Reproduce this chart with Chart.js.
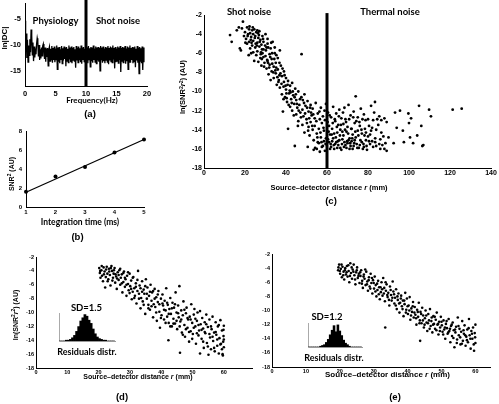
<!DOCTYPE html>
<html><head><meta charset="utf-8">
<script src="https://cdn.jsdelivr.net/npm/chart.js@4.4.1/dist/chart.umd.min.js"></script>
<style>
body{margin:0;width:499px;height:404px;position:relative;background:#fff;overflow:hidden;font-family:"Liberation Sans",Arial,sans-serif}
canvas{position:absolute;left:0;top:0}
.t{position:absolute;white-space:nowrap;font-weight:bold;color:#000;line-height:1;transform:translate(-50%,-50%)}
.r{transform:translate(-50%,-50%) rotate(-90deg)}
.cal{font-family:Lato,"Open Sans",sans-serif}
sup{font-size:70%;vertical-align:0.45em;line-height:0}
</style></head><body>
<script>
// ---------- DATA ----------
// (a) spectrum ln|DC| sampled every 0.1 Hz from 0 Hz
const freqStep = 0.1;
const lnDC = [
-5.4,-9.8,-7.9,-12.6,-9.1,-13.4,-10.2,-12.1,-9.0,-11.5,
-7.1,-8.3,-12.0,-9.6,-13.2,-10.4,-12.5,-10.8,-11.9,-9.9,
-8.8,-9.5,-12.3,-10.1,-13.0,-10.9,-12.7,-10.6,-12.2,-10.3,
-9.9,-11.2,-12.8,-10.6,-13.3,-10.8,-12.4,-10.7,-14.1,-11.0,
-10.5,-13.2,-10.8,-12.9,-10.3,-13.5,-10.7,-13.0,-10.4,-13.4,
-10.8,-12.9,-10.2,-14.8,-10.6,-13.3,-10.5,-13.6,-10.9,-13.0,
-10.3,-13.7,-10.7,-13.1,-10.4,-12.8,-10.6,-14.2,-10.5,-13.2,
-10.8,-13.5,-10.2,-12.9,-10.6,-13.4,-10.4,-13.6,-10.7,-13.0,
-10.5,-13.3,-10.9,-14.5,-10.3,-13.1,-10.6,-13.5,-10.4,-12.9,
-10.7,-13.4,-10.2,-13.7,-10.6,-13.0,-10.5,-13.3,-10.8,-13.5,
-10.4,-13.1,-10.6,-13.6,-10.3,-12.9,-10.7,-14.3,-10.5,-13.2,
-10.6,-13.5,-10.2,-13.0,-10.8,-13.4,-10.4,-13.7,-10.6,-13.1,
-10.5,-13.3,-10.7,-15.1,-10.3,-12.9,-10.6,-13.5,-10.4,-13.2,
-10.8,-13.6,-10.5,-13.0,-10.6,-13.4,-10.3,-13.8,-10.7,-13.1,
-10.4,-13.3,-10.6,-13.5,-10.2,-12.9,-10.7,-14.6,-10.5,-13.4,
-10.8,-13.2,-10.4,-13.6,-10.6,-13.0,-10.3,-15.3,-10.7,-13.3,
-10.5,-13.5,-10.6,-13.1,-10.3,-13.7,-10.8,-13.2,-10.4,-14.8,
-10.6,-13.4,-10.2,-13.5,-10.7,-13.0,-10.5,-13.6,-10.6,-13.3,
-10.4,-14.4,-10.8,-13.1,-10.3,-13.5,-10.6,-15.6,-10.5,-13.2,
-10.7,-13.6,-10.4,-14.9,-10.6,-13.4
];
const cutoffFreq = 10;
const aXTicks = [0,5,10,15,20];
const aYTicks = [-15,-10,-5];

// (b) SNR^2 vs integration time
const intTime = [1,2,3,4,5];
const snr2 = [1.6,3.2,4.2,5.75,7.1];
const snr2Fit = [1.55,7.1];
const bXTicks = [1,2,3,4,5];
const bYTicks = [0,2,4,6,8];

// (c) ln(SNR^2 r^2) vs source-detector distance, all channels
const cPoints = [
[12.7,-4.1],[13.5,-4.8],[16,-3.6],[17,-3.3],[18.5,-3.4],[19,-2.7],[17.5,-5.5],[18,-5.7],[19.5,-4.2],[20,-3.8],
[20.5,-4.5],[21,-3.3],[21,-5.0],[21.5,-4.0],[22,-3.5],[22,-4.8],[22.5,-5.5],[22.5,-3.9],[23,-4.3],[23,-6.0],
[23.5,-3.6],[23.5,-5.2],[24,-4.0],[24,-4.7],[24.5,-6.8],[24.5,-3.5],[25,-5.4],[25,-4.2],[25.5,-6.2],[25.5,-3.8],
[26,-4.9],[26,-5.8],[26.5,-4.4],[26.5,-6.9],[27,-3.7],[27,-5.3],[27.5,-4.6],[27.5,-6.5],[28,-5.1],[28,-7.3],
[28.5,-4.2],[28.5,-6.0],[29,-5.6],[29,-4.8],[29.5,-7.0],[30,-6.3],[30,-4.0],[30.5,-5.4],[30.5,-7.6],[31,-6.8],
[31,-5.0],[31.5,-8.2],[32,-6.1],[32,-7.2],[32.5,-5.5],[33,-7.9],[33,-6.6],[33.5,-4.8],[34,-7.4],[34,-8.6],
[34.5,-6.0],[35,-7.0],[35,-8.1],[35.5,-9.3],[36,-6.5],[36,-7.7],[36.5,-8.8],[37,-5.7],[37,-9.6],[37.5,-7.3],
[38,-8.4],[38,-10.3],[38.5,-12.1],[39,-7.9],[39,-9.0],[39.5,-10.6],[40,-8.6],[40,-9.8],[40.5,-11.1],[41,-8.9],
[41,-13.9],[41.5,-10.2],[42,-9.4],[42,-11.6],[42.5,-10.8],[43,-9.1],[43,-12.0],[43.5,-10.4],[44,-11.3],[44.3,-15.7],
[44.5,-9.7],[45,-10.9],[45,-12.4],[45.5,-11.7],[46,-10.0],[46,-13.1],[46.5,-11.4],[47,-12.2],[47.6,-6.1],[47.5,-10.6],
[48,-11.9],[48,-13.5],[48.5,-12.6],[49,-10.3],[49,-14.3],[49.5,-11.5],[50,-12.9],[50.6,-15.8],[50.5,-11.0],[51,-13.7],
[51,-12.1],[51.5,-14.6],[52,-11.4],[52,-13.2],[52.5,-12.5],[53,-14.0],[53,-11.8],[53.5,-15.1],[54,-12.8],[54,-13.6],
[54.5,-11.2],[55,-14.4],[55,-16.0],[55.5,-12.3],[56,-13.9],[56,-15.4],[56.5,-12.9],[57,-14.8],[57,-11.7],[57.5,-13.3],
[58,-15.7],[58,-12.6],[58.5,-14.1],[59,-13.0],[59,-16.2],[59.5,-11.3],[59.5,-14.9],
[29,-6.4],[31,-4.5],[26,-3.6],[24,-5.9],[22.8,-4.6],[27.8,-5.9],[32.5,-8.8],[34.5,-5.4],[20.2,-4.9],[21.8,-6.2],
[25.2,-5.0],[26.8,-4.1],[28.2,-6.6],[29.8,-5.2],[31.2,-7.0],[33.2,-6.0],[35.2,-7.5],[36.8,-8.3],[38.8,-9.5],[40.2,-10.2],
[42.2,-10.1],[44.2,-10.6],[46.2,-12.0],[48.2,-10.9],[50.2,-13.3],[52.2,-12.2],[54.2,-15.9],[56.5,-16.3],[57.5,-15.8],[58.5,-15.2],
[55.5,-15.3],[53.5,-16.1],
[21.3,-4.2],[22.2,-3.2],[23.2,-4.9],[23.8,-3.3],[24.8,-4.4],[25.8,-5.2],[26.3,-3.9],[27.2,-4.8],[27.7,-6.1],[28.3,-5.6],
[28.8,-4.5],[29.3,-7.4],[30.2,-5.7],[30.8,-6.7],[31.3,-5.4],[31.8,-7.5],[32.3,-6.4],[32.8,-4.9],[33.3,-7.1],[33.8,-8.0],
[34.3,-6.6],[34.8,-7.8],[35.3,-6.2],[35.8,-8.5],[36.3,-9.0],[36.8,-7.0],[37.3,-8.1],[37.8,-9.2],[38.3,-7.6],[38.8,-10.8],
[39.3,-8.3],[39.8,-9.4],[40.3,-10.7],[40.8,-9.3],[41.3,-11.4],[41.8,-9.9],[42.8,-11.2],[43.3,-10.0],[43.8,-12.5],[44.8,-10.3],
[45.3,-11.3],[45.8,-13.6],[46.8,-10.8],[47.3,-12.7],[48.8,-11.2],[49.3,-12.3],[50.3,-11.7],[50.8,-14.1],[51.3,-12.8],[51.8,-11.7],
[52.8,-13.6],[53.3,-12.4],[54.8,-13.1],[55.3,-14.8],[56.3,-12.1],[56.8,-14.3],[57.3,-15.3],[58.3,-13.8],[58.8,-12.0],[59.3,-15.5],
[60.5,-12.2],[61,-13.6],[61,-15.3],[61.5,-14.5],[62,-12.7],[62,-15.8],[62.5,-13.9],[63,-11.6],[63,-14.9],[63.5,-16.0],
[64,-13.1],[64,-15.5],[64.5,-12.3],[65,-14.3],[65,-15.9],[65.5,-13.5],[66,-11.9],[66,-15.1],[66.5,-14.0],[67,-12.8],
[67,-16.1],[67.5,-15.0],[68,-13.4],[68,-14.6],[68.5,-11.7],[69,-15.6],[69,-12.9],[69.5,-14.2],[70,-15.4],[70,-13.7],
[70.5,-11.4],[71,-14.9],[71,-16.0],[71.5,-12.5],[72,-15.2],[72,-13.9],[72.5,-14.5],[73,-12.1],[73,-15.7],[73.5,-13.3],
[74,-10.5],[74,-14.8],[74.5,-15.5],[75,-12.7],[75,-14.1],[75.5,-15.9],[76,-13.6],[76.5,-11.8],[77,-15.3],[77,-14.4],
[78,-12.4],[78,-15.8],[78.5,-13.9],[79,-15.1],[79.5,-16.1],[80,-12.9],[80,-14.7],[81,-15.5],[81.5,-11.5],[82,-13.8],
[82,-15.2],[83,-12.2],[83.4,-11.1],[83.5,-14.9],[84,-15.7],[85,-13.5],[85.5,-12.6],[86,-15.0],[86.5,-14.3],[87,-15.6],
[88,-12.8],[88.5,-15.4],[89.1,-13.2],[89.1,-16.2],[90,-14.8],[92.5,-15.4],[93.2,-12.2],[94,-13.8],[95.6,-12.0],[97,-14.1],
[97.5,-15.3],[99.7,-12.3],[100,-13.3],[100.5,-14.8],[101,-12.8],[102,-15.4],[104,-14.6],[104.9,-11.5],[106,-13.6],[106.5,-15.7],
[107,-15.6],[109.8,-11.9],[110.7,-12.6],[121.3,-11.9],[125.7,-11.8],
[60.5,-15.0],[61.5,-16.0],[62.5,-15.2],[63.5,-14.4],[64.5,-15.3],[65.5,-15.6],[66.5,-15.9],[67.5,-14.2],[68.5,-15.3],[69.5,-15.9],
[70.5,-15.1],[71.5,-15.7],[72.5,-16.0],[73.5,-15.1],[76,-15.6],[77.5,-16.0],[79,-14.3],[81,-14.5],[84,-14.0],[86,-16.0],
[60.3,-13.2],[60.8,-14.2],[61.3,-12.5],[61.8,-15.5],[62.3,-14.5],[62.8,-13.3],[63.3,-15.6],[63.8,-12.9],[64.3,-14.8],[64.8,-13.7],
[65.3,-15.2],[65.8,-12.6],[66.3,-14.6],[66.8,-13.5],[67.3,-15.5],[67.8,-12.2],[68.3,-15.8],[68.8,-14.0],[69.3,-13.2],[69.8,-15.2],
[70.3,-14.4],[70.8,-12.9],[71.3,-15.4],[71.8,-13.9],[72.3,-14.9],[72.8,-12.7],[73.3,-15.4],[73.8,-14.2],[74.3,-13.1],[74.8,-15.9],
[75.3,-14.6],[75.8,-13.2],[76.3,-15.1],[76.8,-14.0],[77.3,-12.9],[77.8,-15.5],[78.3,-14.6],[78.8,-13.0],[79.3,-15.7],[80.5,-15.2],
[80.5,-13.6],[81.5,-14.1],[82.5,-15.8],[82.5,-13.0],[83.5,-15.3],[84.5,-12.9],[85.5,-15.5],[86.5,-13.0],[87.5,-14.7],[88,-16.0]
];
const cutoffDist = 60;
const cXTicks = [0,20,40,60,80,100,120,140];
const rTicksY = [-18,-16,-14,-12,-10,-8,-6,-4,-2];

// (d) short-separation channels, SD = 1.5
const dPoints = [
[20.2,-3.6],[20.4,-4.3],[20.6,-5.0],[20.9,-3.9],[21.1,-4.7],[21.4,-5.5],[21.6,-3.5],[21.9,-4.1],[22.1,-6.4],[22.3,-4.9],
[22.6,-3.4],[22.8,-4.4],[23.1,-5.2],[23.3,-3.7],[23.6,-4.6],[23.8,-6.1],[24.1,-3.3],[24.3,-4.0],[24.6,-5.0],[24.8,-4.4],
[25.1,-3.6],[25.3,-5.7],[25.6,-4.8],[25.8,-6.6],[26.1,-4.2],[26.4,-5.3],[26.6,-3.9],[26.9,-6.0],[27.1,-5.0],[27.4,-4.5],
[27.6,-7.1],[27.9,-5.6],[28.1,-4.1],[28.4,-6.3],[28.6,-5.2],[28.9,-7.6],[29.1,-4.7],[29.4,-5.9],[29.6,-6.8],[29.9,-4.4],
[30.1,-6.2],[30.4,-5.4],[30.6,-8.1],[30.9,-7.0],[31.1,-4.9],[31.4,-6.5],[31.6,-7.6],[31.9,-5.8],[32.1,-8.7],[32.4,-6.9],
[32.6,-4.0],[32.9,-7.3],[33.1,-6.1],[33.4,-9.4],[33.6,-7.9],[33.9,-5.5],[34.1,-8.4],[34.4,-6.7],[34.6,-7.3],[34.9,-10.2],
[35.1,-5.2],[35.4,-8.0],[35.6,-6.4],[35.9,-8.9],[36.1,-7.6],[36.4,-9.6],[36.6,-6.0],[36.9,-8.3],[37.1,-7.1],[37.4,-10.7],
[37.6,-8.8],[37.9,-6.6],[38.1,-9.2],[38.4,-7.8],[38.6,-11.2],[38.9,-8.5],[39.1,-6.9],[39.6,-12.2],[39.4,-9.9],[39.9,-8.0],
[40.1,-10.4],[40.4,-7.4],[40.6,-9.0],[40.9,-11.0],[41.1,-8.3],[41.4,-9.7],[41.6,-6.5],[41.9,-10.6],[42.3,-14.0],[42.1,-8.9],
[42.4,-11.5],[42.6,-9.5],[42.9,-7.9],[43.1,-10.2],[43.4,-12.0],[43.6,-8.6],[43.9,-10.9],[44.1,-9.3],[44.4,-11.6],[44.6,-7.1],
[44.9,-10.0],[45.1,-12.4],[45.4,-9.0],[45.8,-6.2],[45.6,-10.7],[46,-15.8],[46.1,-11.3],[46.4,-9.7],[46.6,-12.9],[46.9,-10.4],
[47.1,-8.4],[47.4,-11.8],[47.6,-13.5],[47.9,-10.1],[48.1,-9.3],[48.4,-12.2],[48.6,-11.0],[48.9,-14.2],[49.1,-10.6],[49.4,-12.7],
[49.6,-8.8],[49.9,-11.5],[50.1,-13.1],[50.4,-10.3],[50.6,-9.5],[50.9,-12.0],[51.1,-14.5],[51.4,-11.2],[51.6,-10.0],[51.9,-13.3],
[52.4,-15.9],[52.1,-12.6],[52.4,-9.8],[52.6,-11.7],[52.9,-13.8],[53.1,-10.8],[53.4,-12.3],[53.6,-15.1],[53.9,-11.4],[54.1,-13.0],
[54.4,-10.3],[54.6,-14.4],[54.9,-12.1],[55.1,-16.1],[55.4,-11.0],[55.6,-13.6],[55.9,-15.3],[56.1,-12.4],[56.4,-10.6],[56.6,-14.1],
[56.9,-12.9],[57.1,-15.6],[57.4,-11.4],[57.6,-13.2],[57.9,-14.8],[58.1,-12.0],[58.4,-15.9],[58.6,-13.7],[58.9,-11.1],[59.1,-14.5],
[59.4,-12.6],[59.6,-16.0],[59.9,-13.4],[60,-15.0],[60,-11.9],[59.8,-14.2],
[20.5,-4.0],[21,-3.3],[21.7,-4.5],[22.4,-3.8],[22.9,-5.5],[23.4,-4.1],[23.9,-3.6],[24.4,-5.4],[24.9,-3.9],[25.4,-4.5],
[25.9,-5.1],[26.4,-4.6],[26.9,-3.7],[27.4,-5.8],[27.9,-4.3],[28.4,-5.0],[28.9,-6.0],[29.4,-4.2],[29.9,-7.2],[30.4,-6.6],
[30.9,-5.0],[31.4,-7.9],[31.9,-6.3],[32.4,-5.3],[32.9,-8.0],[33.4,-6.5],[33.9,-7.0],[34.4,-8.9],[34.9,-6.2],[35.4,-7.3],
[35.9,-9.4],[36.4,-7.0],[36.9,-9.1],[37.4,-6.9],[37.9,-8.0],[38.4,-10.0],[38.9,-7.4],[39.4,-8.8],[39.9,-10.8],[40.4,-8.7],
[40.9,-9.6],[41.4,-11.5],[41.9,-8.6],[42.4,-10.2],[42.9,-12.0],[43.4,-9.4],[43.9,-11.6],[44.4,-8.8],[44.9,-11.2],[45.4,-10.1],
[45.9,-12.0],[46.4,-11.0],[46.9,-13.2],[47.4,-9.6],[47.9,-12.4],[48.4,-10.8],[48.9,-12.8],[49.4,-11.0],[49.9,-13.8],[50.4,-12.2],
[50.9,-10.9],[51.4,-13.0],[51.9,-11.8],[52.9,-12.5],[53.4,-14.2],[53.9,-12.8],[54.4,-11.7],[54.9,-14.9],[55.4,-13.1],[55.9,-12.0],
[56.4,-13.5],[56.9,-15.1],[57.4,-12.8],[57.9,-13.9],[58.4,-11.8],[58.9,-14.6],[59.4,-15.3],[59.9,-12.5],[60,-13.9],[59.7,-16.2]
];
const dResidHist = [0,0,0,1,1,2,4,7,12,18,25,29,33,31,26,22,15,9,5,3,2,1,1,0,0,0,0];

// (e) after correction, SD = 1.2
const ePoints = [
[19.5,-4.3],[19.8,-3.5],[20.1,-4.8],[20.3,-4.1],[20.6,-5.3],[20.8,-3.8],[21.1,-4.5],[21.3,-5.6],[21.6,-4.0],[21.8,-4.9],
[22.1,-3.7],[22.3,-5.2],[22.6,-4.4],[22.8,-6.0],[23.1,-3.3],[23.3,-4.7],[23.6,-5.5],[23.8,-4.2],[24.1,-3.5],[24.3,-5.0],
[24.6,-6.3],[24.8,-4.6],[25.1,-3.9],[25.3,-5.4],[25.6,-4.8],[25.8,-6.1],[26.1,-5.1],[26.3,-4.3],[26.6,-5.8],[26.8,-6.8],
[27.1,-4.9],[27.3,-5.5],[27.6,-6.4],[27.8,-4.5],[28.1,-5.9],[28.3,-7.2],[28.6,-5.3],[28.8,-6.6],[29.1,-4.8],[29.3,-6.1],
[29.6,-7.6],[29.8,-5.7],[30.1,-6.9],[30.3,-5.2],[30.6,-6.4],[30.8,-8.0],[31.1,-7.1],[31.3,-5.8],[31.6,-6.7],[31.8,-8.4],
[32.1,-7.4],[32.3,-6.0],[32.6,-7.9],[32.8,-5.4],[33.1,-6.8],[33.4,-12.4],[33.3,-8.7],[33.6,-7.2],[33.8,-6.3],[34.1,-8.1],
[34.3,-7.5],[34.6,-9.3],[34.8,-6.6],[35.1,-7.8],[35.3,-8.6],[35.6,-5.9],[35.8,-7.3],[36.1,-9.0],[36.3,-8.2],[36.6,-7.0],
[36.8,-9.8],[37.1,-8.5],[37.3,-7.6],[37.6,-10.3],[37.8,-8.9],[38.1,-7.9],[38.3,-9.4],[38.6,-8.6],[38.8,-10.8],[39.1,-9.1],
[39.3,-7.5],[39.6,-9.9],[39.8,-8.3],[40.1,-10.5],[40.3,-9.3],[40.6,-8.1],[40.8,-11.3],[41.1,-9.7],[41.3,-10.2],[41.6,-8.8],
[41.8,-11.0],[42.1,-9.5],[42.3,-10.6],[42.6,-12.0],[42.8,-9.9],[43.1,-10.9],[43.3,-8.9],[43.7,-14.3],[43.6,-11.4],[43.8,-10.2],
[44.1,-11.8],[44.3,-9.6],[44.6,-10.7],[44.8,-12.4],[45.1,-11.1],[45.3,-10.0],[45.6,-11.7],[45.8,-12.9],[46.1,-10.5],[46.3,-11.4],
[46.6,-9.8],[46.8,-12.2],[47.1,-11.0],[47.3,-13.1],[47.6,-10.8],[47.8,-11.9],[48.1,-12.6],[48.3,-11.3],[48.6,-10.3],[48.8,-12.0],
[49.1,-13.4],[49.3,-11.6],[49.6,-12.4],[49.8,-10.9],[50.1,-12.1],[50.3,-13.0],[50.6,-11.4],[50.8,-12.7],[51.1,-14.0],[51.3,-11.9],
[51.6,-12.5],[51.8,-13.3],[52.1,-11.2],[52.3,-12.9],[52.6,-14.5],[52.8,-12.2],[53.1,-13.6],[53.3,-11.7],[53.6,-12.8],[53.8,-15.2],
[54.1,-13.1],[54.3,-12.3],[54.6,-14.1],[54.8,-11.0],[55.1,-13.5],[55.3,-12.6],[55.6,-14.8],[55.8,-13.0],[56.1,-11.5],[56.3,-14.3],
[56.6,-13.3],[56.8,-12.1],[57.1,-15.0],[57.3,-13.7],[57.6,-12.7],[57.8,-14.5],[58.1,-11.2],[58.3,-13.5],[58.6,-15.4],[58.8,-12.9],
[59.1,-14.0],[59.3,-12.4],[59.6,-15.7],[59.8,-13.2],[60,-14.6],[60,-12.0],
[19.6,-3.9],[20,-4.4],[20.5,-3.5],[21,-5.0],[21.5,-4.3],[22,-4.6],[22.5,-3.6],[23,-5.1],[23.5,-3.9],[24,-4.5],
[24.5,-5.6],[25,-4.3],[25.5,-5.1],[26,-4.6],[26.5,-6.2],[27,-5.2],[27.5,-4.2],[28,-6.3],[28.5,-5.7],[29,-6.9],
[29.5,-5.4],[30,-6.1],[30.5,-7.3],[31,-6.2],[31.5,-7.7],[32,-6.7],[32.5,-7.0],[33,-7.6],[33.5,-6.0],[34,-7.8],
[34.5,-8.5],[35,-7.1],[35.5,-8.2],[36,-7.7],[36.5,-9.3],[37,-8.0],[37.5,-9.0],[38,-8.3],[38.5,-9.8],[39,-8.6],
[39.5,-10.3],[40,-9.4],[40.5,-10.0],[41,-10.7],[41.5,-9.4],[42,-10.3],[42.5,-11.1],[43,-10.2],[43.5,-11.8],[44,-10.5],
[44.5,-11.4],[45,-12.0],[45.5,-10.7],[46,-11.8],[46.5,-12.6],[47,-11.5],[47.5,-12.0],[48,-10.9],[48.5,-12.8],[49,-11.9],
[49.5,-12.9],[50,-11.6],[50.5,-13.4],[51,-12.4],[51.5,-11.5],[52,-13.1],[52.5,-12.6],[53,-12.0],[53.5,-13.9],[54,-12.7],
[54.5,-14.6],[55,-12.2],[55.5,-13.8],[56,-14.7],[56.5,-12.8],[57,-13.5],[57.5,-14.2],[58,-12.5],[58.5,-14.0],[59,-13.3],
[59.5,-14.8],[59.9,-13.8]
];
const eResidHist = [0,0,0,0,0,0,1,2,3,6,10,16,22,28,20,29,21,15,9,5,3,1,0,0,0,0,0,0];
const deXTicks = [0,10,20,30,40,50,60];

// ---------- HELPERS ----------
const W = 499, H = 404;
Chart.defaults.font.family = '"Liberation Sans", Arial, sans-serif';
Chart.defaults.color = '#000';
Chart.defaults.animation = false;

function fixFit(area){
  return function(s){
    if (s.isHorizontal()) s.height = H - area[3]; else s.width = area[0];
    s.paddingLeft = 0; s.paddingRight = 0; s.paddingTop = 0; s.paddingBottom = 0;
  };
}
function setTicks(arr){ return function(s){ s.ticks = arr.map(v => ({value: v})); }; }
function axis(min, max, ticks, fontSize, pad){
  return {
    type: 'linear', min: min, max: max,
    afterBuildTicks: setTicks(ticks),
    grid: {display: true, drawOnChartArea: false, drawTicks: false},
    border: {display: true, color: '#000', width: 1},
    ticks: {font: {size: fontSize, weight: 'bold'}, padding: pad, autoSkip: false, maxRotation: 0, color: '#000'}
  };
}
function makeChart(area, config){
  const cv = document.createElement('canvas');
  cv.width = W; cv.height = H;
  document.body.appendChild(cv);
  const f = fixFit(area);
  Object.values(config.options.scales).forEach(s => { s.afterFit = f; });
  config.options = Object.assign({
    responsive: false, animation: false, devicePixelRatio: 1,
    layout: {padding: {left: 0, top: area[1], right: W - area[2], bottom: 0}},
    plugins: {legend: {display: false}, tooltip: {enabled: false}}
  }, config.options);
  return new Chart(cv, config);
}
function txt(html, x, y, size, cls){
  const d = document.createElement('div');
  d.className = 't ' + (cls || '');
  d.style.left = x + 'px'; d.style.top = y + 'px'; d.style.fontSize = size + 'px';
  d.innerHTML = html;
  document.body.appendChild(d);
}
const dot = {showLine: false, pointRadius: 1.4, pointBackgroundColor: '#000', pointBorderWidth: 0, borderColor: '#000', clip: false};
function insetScales(ymax){
  return {
    x: {type: 'category', ticks: {display: false}, grid: {display: false}, border: {display: true, color: '#999', width: 1}},
    y: {min: 0, max: ymax, ticks: {display: false}, grid: {display: false}, border: {display: true, color: '#aaa', width: 1, dash: [1, 3]}}
  };
}

// ---------- (a) ----------
makeChart([25, 3, 147, 86], {
  type: 'line',
  data: {datasets: [
    {data: lnDC.map((v, i) => ({x: i * freqStep, y: v})), borderColor: '#000', borderWidth: 1.3, pointRadius: 0, tension: 0},
    {data: [{x: cutoffFreq, y: -18}, {x: cutoffFreq, y: -1}], borderColor: '#000', borderWidth: 3, pointRadius: 0, clip: false}
  ]},
  options: {scales: {
    x: axis(0, 20, aXTicks, 7.5, 3),
    y: axis(-18, -2, aYTicks, 7.5, 4)
  }}
});

// ---------- (b) ----------
makeChart([26, 131, 144, 207], {
  type: 'scatter',
  data: {datasets: [
    Object.assign({data: intTime.map((t, i) => ({x: t, y: snr2[i]}))}, dot, {pointRadius: 2}),
    {type: 'line', data: [{x: intTime[0], y: snr2Fit[0]}, {x: intTime[intTime.length - 1], y: snr2Fit[1]}], borderColor: '#000', borderWidth: 1.2, pointRadius: 0, clip: false}
  ]},
  options: {scales: {
    x: axis(1, 5, bXTicks, 6, 2),
    y: axis(0, 8, bYTicks, 6, 4)
  }}
});

// ---------- (c) ----------
makeChart([204, 15, 491, 168], {
  type: 'scatter',
  data: {datasets: [
    Object.assign({data: cPoints.map(p => ({x: p[0], y: p[1]}))}, dot),
    {type: 'line', data: [{x: cutoffDist, y: -18}, {x: cutoffDist, y: -1.8}], borderColor: '#000', borderWidth: 3, pointRadius: 0, clip: false}
  ]},
  options: {scales: {
    x: axis(0, 140, cXTicks, 7, 1),
    y: axis(-18, -2, rTicksY, 7, 2)
  }}
});

// ---------- (d) ----------
makeChart([36, 257, 252, 368], {
  type: 'scatter',
  data: {datasets: [Object.assign({data: dPoints.map(p => ({x: p[0], y: p[1]}))}, dot, {pointRadius: 1.3})]},
  options: {scales: {
    x: axis(0, 69, deXTicks, 5.5, 1),
    y: axis(-18, -2, rTicksY, 5.5, 2)
  }}
});
makeChart([59, 313, 115, 341], {
  type: 'bar',
  data: {labels: dResidHist.map((v, i) => i), datasets: [{data: dResidHist, backgroundColor: '#000', barPercentage: 1, categoryPercentage: 1}]},
  options: {scales: insetScales(35)}
});

// ---------- (e) ----------
makeChart([272, 254, 490, 367], {
  type: 'scatter',
  data: {datasets: [Object.assign({data: ePoints.map(p => ({x: p[0], y: p[1]}))}, dot, {pointRadius: 1.3})]},
  options: {scales: {
    x: axis(0, 64.3, deXTicks, 5.5, 1),
    y: axis(-18, -2, rTicksY, 5.5, 2)
  }}
});
makeChart([308, 323, 362, 347], {
  type: 'bar',
  data: {labels: eResidHist.map((v, i) => i), datasets: [{data: eResidHist, backgroundColor: '#000', barPercentage: 1, categoryPercentage: 1}]},
  options: {scales: insetScales(31.5)}
});

// ---------- TEXT ----------
txt('Physiology', 55.5, 21, 9.5, 'cal');
txt('Shot noise', 118, 21, 9.5, 'cal');
txt('ln|DC|', 5, 38, 8, 'r');
txt('Frequency(Hz)', 92, 100, 8, 'cal');
txt('(a)', 90, 114, 9.5);

txt('SNR<sup>2</sup> (AU)', 10.5, 174, 7, 'r');
txt('Integration time (ms)', 80, 222, 8.5, 'cal');
txt('(b)', 77.5, 237, 9.5);

txt('Shot noise', 249, 12, 9.5, 'cal');
txt('Thermal noise', 390, 12, 9.5, 'cal');
txt('ln(SNR<sup>2</sup><i>r</i><sup>2</sup>) (AU)', 183, 87, 7.5, 'r');
txt('Source\u2013detector distance <i>r</i> (mm)', 329, 188, 7.5);
txt('(c)', 331, 201, 9.5);

txt('ln(SNR<sup>2</sup><i>r</i><sup>2</sup>) (AU)', 15, 315, 7, 'r');
txt('SD=1.5', 86.5, 308, 9.5, 'cal');
txt('Residuals distr.', 87, 351, 9, 'cal');
txt('Source\u2013detector distance <i>r</i> (mm)', 138, 376, 7);
txt('(d)', 122, 397, 9.5);

txt('SD=1.2', 327, 317, 9.5, 'cal');
txt('Residuals distr.', 334, 357, 9, 'cal');
txt('Source\u2013detector distance <i>r</i> (mm)', 387.5, 375, 8);
txt('(e)', 395, 397, 9.5);
</script>
</body></html>
